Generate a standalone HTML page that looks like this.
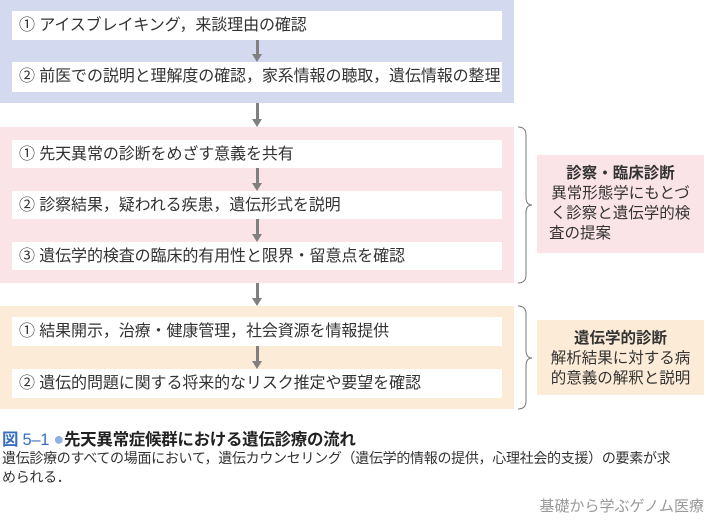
<!DOCTYPE html>
<html><head><meta charset="utf-8"><style>
body{margin:0;width:706px;height:526px;background:#fff;position:relative;font-family:"Liberation Sans","Noto Sans CJK JP",sans-serif;overflow:hidden}
.a{position:absolute}
.bx{position:absolute;left:12px;width:490px;background:#fff;font-size:16px;color:#333;line-height:29px;padding-left:7px;box-sizing:border-box;white-space:nowrap;letter-spacing:-0.1px}
.ar{position:absolute;left:256px;width:3px;background:#808080}
.ah{position:absolute;left:252px;width:0;height:0;border-left:5.5px solid transparent;border-right:5.5px solid transparent;border-top:8px solid #808080}
.lb{position:absolute;left:537px;width:167px;text-align:center;font-size:15.5px;color:#333;line-height:20px;box-sizing:border-box;padding-top:9px;white-space:nowrap}
</style></head><body>
<div class="a" style="left:0;top:0;width:514px;height:103px;background:#d3d9ee"></div>
<div class="a" style="left:0;top:127px;width:514px;height:156px;background:#fbe4e8"></div>
<div class="a" style="left:0;top:306px;width:514px;height:103px;background:#fcebd6"></div>
<div class="bx" style="top:11px;height:29px">① アイスブレイキング，来談理由の確認</div>
<div class="bx" style="top:62px;height:30px">② 前医での説明と理解度の確認，家系情報の聴取，遺伝情報の整理</div>
<div class="bx" style="top:140px;height:28px">① 先天異常の診断をめざす意義を共有</div>
<div class="bx" style="top:191px;height:28px">② 診察結果，疑われる疾患，遺伝形式を説明</div>
<div class="bx" style="top:242px;height:28px">③ 遺伝学的検査の臨床的有用性と限界・留意点を確認</div>
<div class="bx" style="top:317px;height:29px">① 結果開示，治療・健康管理，社会資源を情報提供</div>
<div class="bx" style="top:369px;height:29px">② 遺伝的問題に関する将来的なリスク推定や要望を確認</div>
<div class="ar" style="top:40px;height:14px"></div><div class="ah" style="top:54px"></div>
<div class="ar" style="top:103px;height:16px"></div><div class="ah" style="top:119px"></div>
<div class="ar" style="top:168px;height:15px"></div><div class="ah" style="top:183px"></div>
<div class="ar" style="top:219px;height:15px"></div><div class="ah" style="top:234px"></div>
<div class="ar" style="top:283px;height:15px"></div><div class="ah" style="top:298px"></div>
<div class="ar" style="top:346px;height:15px"></div><div class="ah" style="top:361px"></div>
<svg class="a" style="left:0;top:0" width="706" height="526">
<path d="M518 127 q8 0 8 8 v62 q0 8 6 8 q-6 0 -6 8 v62 q0 8 -8 8" fill="none" stroke="#777" stroke-width="1"/>
<path d="M518 306 q8 0 8 8 v36 q0 8 6 8 q-6 0 -6 8 v35 q0 8 -8 8" fill="none" stroke="#777" stroke-width="1"/>
</svg>
<div class="lb" style="top:155px;height:98px;background:#fbe4e8"><b>診察・臨床診断</b><br>異常形態学にもとづ<br>く診察と遺伝学的検<br><span style="display:block;text-align:left;padding-left:12px">査の提案</span></div>
<div class="lb" style="top:320px;height:75px;background:#fcebd6"><b>遺伝学的診断</b><br>解析結果に対する病<br>的意義の解釈と説明</div>
<div class="a" style="left:2px;top:426px;font-size:16.5px;white-space:nowrap;letter-spacing:-0.3px"><span style="color:#3a6fc0;font-weight:bold">図</span><span style="color:#3a6fc0"> 5‒1 </span><span style="color:#8fb0e0;font-size:18px">●</span><b style="color:#222">先天異常症候群における遺伝診療の流れ</b></div>
<div class="a" style="left:2px;top:449px;font-size:14px;color:#333;line-height:19px;white-space:nowrap;letter-spacing:-0.3px">遺伝診療のすべての場面において，遺伝カウンセリング（遺伝学的情報の提供，心理社会的支援）の要素が求<br>められる．</div>
<div class="a" style="right:2px;top:495px;font-size:15px;color:#999">基礎から学ぶゲノム医療</div>
</body></html>
